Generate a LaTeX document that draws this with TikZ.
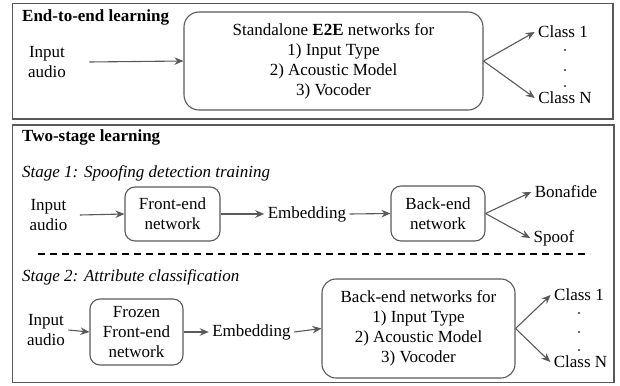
\documentclass[tikz,border=0pt]{standalone}
\usepackage{fontspec}
\setmainfont{Liberation Serif}
\usetikzlibrary{positioning,arrows.meta}

\tikzset{
    every node/.style={font=\fontsize{17}{20}\selectfont, align=center},
    panel/.style={draw=black!65, line width=1.3pt},
    netbox/.style={draw=black!65, line width=1.1pt, rounded corners=10pt, inner sep=0pt},
    flow/.style={draw=black!65, line width=1.1pt, -{Stealth[length=9pt,width=7.5pt]}},
    sepline/.style={draw=black, line width=1.3pt, dash pattern=on 7pt off 5pt},
    title/.style={anchor=west, inner sep=0pt, font=\fontsize{17}{20}\selectfont\bfseries},
    stagetitle/.style={anchor=west, inner sep=0pt, font=\fontsize{17}{20}\selectfont\itshape},
}

\begin{document}
\begin{tikzpicture}[x=1pt,y=-1pt]
    \useasboundingbox (0,0) rectangle (620,385);
    \draw[panel] (12.7,3.3) rectangle (613,119);
    \draw[panel] (12.7,125) rectangle (614,382.5);

    % end-to-end learning
    \node[title] (tE2E) at (22,17) {End-to-end learning};
    \node (inA) at (47,62) {Input\\audio};
    \node[netbox, minimum width=299pt, minimum height=98pt, rounded corners=15pt]
        (e2eNet) at (333.5,61) {Standalone \textbf{E2E} networks for\\1) Input Type\\2) Acoustic Model\\3) Vocoder};
    \node (clsA1) at (563,32) {Class 1};
    \node (clsAN) at (565,98) {Class N};
    \foreach \y in {50,70,86} \fill[black!80] (565,\y) circle (1.1pt);
    \draw[flow] ([xshift=20pt]inA.east) -- (e2eNet.west);
    \draw[flow] (e2eNet.east) -- (clsA1.west);
    \draw[flow] (e2eNet.east) -- (clsAN.west);

    % two-stage learning
    \node[title] (tTwo) at (22,137) {Two-stage learning};
    \node[stagetitle] (tS1) at (22,173) {Stage 1: Spoofing detection training};
    \node (inB) at (48.5,215) {Input\\audio};
    \node[netbox, minimum width=95pt, minimum height=54pt] (feB) at (172.5,214) {Front-end\\network};
    \node (embB) at (307,214) {Embedding};
    \node[netbox, minimum width=94pt, minimum height=55pt] (beB) at (438,213.5) {Back-end\\network};
    \node (bona) at (566,192) {Bonafide};
    \node (spoof) at (554,238) {Spoof};
    \draw[flow] ([xshift=9pt]inB.east) -- (feB.west);
    \draw[flow] (feB.east) -- (embB.west);
    \draw[flow] (embB.east) -- (beB.west);
    \draw[flow] (beB.east) -- (bona.west);
    \draw[flow] (beB.east) -- (spoof.west);

    \draw[sepline] (38,254) -- (590,254);

    \node[stagetitle] (tS2) at (22,277) {Stage 2: Attribute classification};
    \node (inC) at (46,330) {Input\\audio};
    \node[netbox, minimum width=93pt, minimum height=66pt] (fzC) at (136.5,332) {Frozen\\Front-end\\network};
    \node (embC) at (251.5,332) {Embedding};
    \node[netbox, minimum width=193pt, minimum height=99pt, rounded corners=14pt]
        (beC) at (418.5,328.5) {Back-end networks for\\1) Input Type\\2) Acoustic Model\\3) Vocoder};
    \node (clsC1) at (579,295) {Class 1};
    \node (clsCN) at (580.5,362) {Class N};
    \foreach \y in {313,332,350} \fill[black!80] (579,\y) circle (1.1pt);
    \draw[flow] (inC.east) -- (fzC.west);
    \draw[flow] (fzC.east) -- (embC.west);
    \draw[flow] (embC.east) -- (beC.west);
    \draw[flow] (beC.east) -- (clsC1.west);
    \draw[flow] (beC.east) -- (clsCN.west);
\end{tikzpicture}
\end{document}
